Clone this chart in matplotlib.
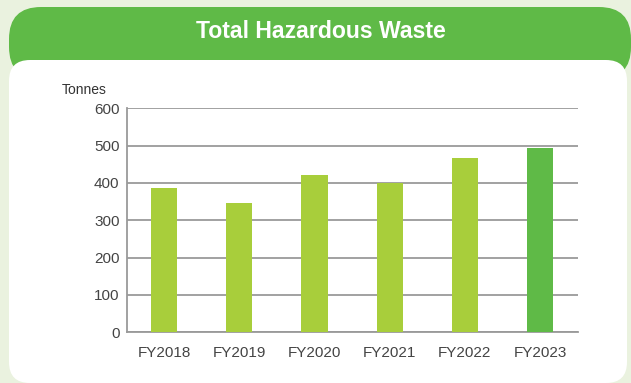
import matplotlib
matplotlib.use("Agg")
import matplotlib.pyplot as plt
from matplotlib.patches import FancyBboxPatch

years = ["FY2018", "FY2019", "FY2020", "FY2021", "FY2022", "FY2023"]
waste_tonnes = [387, 346, 421, 399, 467, 494]
yticks = [0, 100, 200, 300, 400, 500, 600]

light_green = "#A8CE3B"
dark_green = "#5FBA47"
bar_colors = [light_green] * 5 + [dark_green]

W, H = 631, 383
fig = plt.figure(figsize=(W / 100, H / 100), dpi=100)
fig.patch.set_facecolor("#EAF2DF")

bg = fig.add_axes([0, 0, 1, 1])
bg.set_xlim(0, W)
bg.set_ylim(H, 0)
bg.axis("off")

# Green header card
bg.add_patch(FancyBboxPatch((9, 7), 622, 72, boxstyle="round,pad=0,rounding_size=32",
                            fc=dark_green, ec="none"))
# White content panel
bg.add_patch(FancyBboxPatch((9, 60), 618, H - 60, boxstyle="round,pad=0,rounding_size=21",
                            fc="white", ec="none"))
bg.text(321, 32, "Total Hazardous Waste", ha="center", va="center", color="white",
        fontsize=16.6, fontweight="bold", family="Liberation Sans")
bg.text(62, 90, "Tonnes", ha="left", va="center", color="#333333",
        fontsize=10, family="Liberation Sans")

ax = fig.add_axes([126.5 / W, 1 - 332.3 / H, (577.7 - 126.5) / W, (332.3 - 108.3) / H])
ax.set_facecolor("none")
x = range(len(years))
ax.bar(x, waste_tonnes, width=0.35, color=bar_colors, zorder=3)
ax.set_xlim(-0.5, len(years) - 0.5)
ax.set_ylim(0, 600)
ax.set_yticks(yticks)
ax.set_xticks(list(x))
ax.set_xticklabels(years)
ax.yaxis.grid(True, color="#9A9A9A", linewidth=1.3, zorder=0)
ax.set_axisbelow(True)
for s in ["top", "right"]:
    ax.spines[s].set_visible(False)
for s in ["left", "bottom"]:
    ax.spines[s].set_color("#9A9A9A")
    ax.spines[s].set_linewidth(1.3)
ax.tick_params(axis="y", length=0, labelsize=11, labelcolor="#444444", pad=5)
ax.tick_params(axis="x", length=0, labelsize=11, labelcolor="#444444", pad=10)
for lbl in ax.get_xticklabels() + ax.get_yticklabels():
    lbl.set_family("Liberation Sans")

fig.savefig("out.png", dpi=100, facecolor=fig.get_facecolor())
